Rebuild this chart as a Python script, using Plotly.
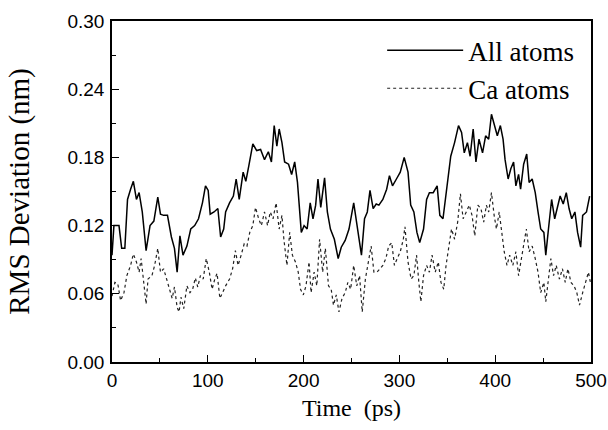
import plotly.graph_objects as go

# All atoms (solid)
time_all = [0, 2.0, 7.3, 10.1, 13.4, 16.2, 19.4, 22.3, 25.5, 28.3, 31.6, 35.6, 39.7, 43.7,
            47.8, 50.6, 53.9, 57.9, 62.0, 65.2, 68.0, 70.9, 74.1, 78.2, 82.2, 86.3, 90.3,
            94.4, 97.6, 100.4, 102.5, 106.5, 110.5, 113.4, 116.6, 118.6, 122.7, 126.7,
            129.6, 132.8, 136.9, 139.7, 142.9, 147.0, 151.0, 155.1, 159.2, 163.2, 166.4,
            169.3, 172.1, 174.5, 177.4, 180.2, 184.3, 187.5, 190.7, 193.6, 197.6, 200.5,
            203.7, 206.9, 209.8, 212.6, 215.0, 217.9, 221.9, 224.8, 228.0, 232.1, 236.1,
            239.3, 243.4, 247.4, 252.3, 255.5, 260.4, 263.6, 266.5, 269.3, 272.6, 275.8,
            278.6, 282.7, 286.7, 289.6, 292.8, 296.9, 300.9, 305.0, 309.0, 311.8, 315.1,
            318.3, 321.2, 325.2, 328.4, 331.3, 335.3, 339.4, 342.2, 345.5, 349.5, 353.6,
            357.6, 361.7, 364.9, 367.7, 371.0, 373.8, 377.0, 379.9, 383.1, 386.8, 390.0,
            393.2, 396.1, 398.9, 402.2, 405.4, 408.2, 410.3, 413.5, 416.3, 419.2, 421.6,
            424.4, 426.5, 429.7, 432.9, 435.4, 438.6, 441.8, 444.7, 447.5, 450.8, 452.8,
            455.6, 458.9, 462.1, 464.9, 467.8, 471.0, 474.2, 477.1, 479.9, 483.2, 486.0,
            489.2, 491.3, 495.3, 498.6, 500.0]
rmsd_all = [0.094, 0.120, 0.120, 0.100, 0.100, 0.143, 0.152, 0.159, 0.143, 0.149, 0.132,
            0.098, 0.120, 0.124, 0.145, 0.130, 0.129, 0.129, 0.110, 0.100, 0.079, 0.111,
            0.094, 0.102, 0.117, 0.120, 0.126, 0.140, 0.155, 0.151, 0.130, 0.132, 0.135,
            0.110, 0.117, 0.132, 0.140, 0.146, 0.161, 0.143, 0.167, 0.159, 0.173, 0.192,
            0.186, 0.187, 0.178, 0.185, 0.176, 0.208, 0.190, 0.205, 0.193, 0.176, 0.174,
            0.165, 0.176, 0.158, 0.114, 0.120, 0.117, 0.140, 0.126, 0.138, 0.161, 0.136,
            0.162, 0.132, 0.117, 0.108, 0.091, 0.101, 0.107, 0.117, 0.140, 0.120, 0.094,
            0.126, 0.132, 0.151, 0.135, 0.139, 0.138, 0.143, 0.152, 0.164, 0.155, 0.161,
            0.167, 0.180, 0.167, 0.138, 0.132, 0.114, 0.105, 0.117, 0.143, 0.149, 0.149,
            0.155, 0.129, 0.126, 0.155, 0.181, 0.193, 0.208, 0.202, 0.184, 0.193, 0.181,
            0.205, 0.176, 0.196, 0.184, 0.199, 0.196, 0.218, 0.208, 0.199, 0.208, 0.196,
            0.178, 0.161, 0.170, 0.176, 0.155, 0.165, 0.152, 0.174, 0.183, 0.158, 0.161,
            0.149, 0.132, 0.117, 0.114, 0.094, 0.117, 0.143, 0.126, 0.136, 0.146, 0.139,
            0.149, 0.135, 0.126, 0.132, 0.114, 0.101, 0.129, 0.132, 0.146]

# C-alpha atoms (dotted)
time_ca = [0, 3.0, 6.0, 9.0, 12.5, 15.5, 19.4, 22.3, 25.5, 28.3, 30.4, 33.6, 35.6, 37.6,
           41.7, 44.5, 47.8, 50.6, 53.9, 57.0, 60.0, 62.8, 65.2, 68.0, 70.0, 72.0, 74.9,
           78.2, 81.4, 84.2, 87.0, 89.5, 92.3, 95.2, 98.4, 101.6, 104.5, 107.3, 109.7,
           112.6, 115.4, 118.6, 122.7, 125.9, 128.8, 131.6, 134.8, 138.0, 140.9, 143.8,
           147.0, 149.8, 153.1, 155.9, 159.2, 162.4, 165.2, 168.1, 171.3, 174.5, 177.4,
           179.4, 182.6, 185.5, 188.3, 191.5, 194.4, 196.8, 199.7, 202.5, 205.7, 207.8,
           211.0, 213.8, 216.7, 219.9, 222.7, 226.0, 228.8, 231.2, 234.1, 236.9, 240.1,
           243.4, 246.2, 249.1, 252.3, 255.5, 258.4, 261.2, 264.5, 267.7, 270.5, 273.4,
           276.6, 279.8, 282.7, 285.9, 288.8, 292.0, 294.8, 297.7, 300.9, 304.1, 305.8,
           309.0, 312.2, 315.1, 317.9, 320.3, 322.4, 325.2, 328.4, 331.3, 334.1, 337.4,
           340.6, 343.4, 346.3, 348.7, 351.5, 354.4, 357.6, 360.8, 363.7, 366.5, 369.8,
           373.0, 375.8, 378.7, 381.9, 385.1, 388.0, 390.8, 393.2, 396.1, 398.9, 401.3,
           404.2, 407.0, 409.4, 412.3, 415.1, 418.4, 421.6, 424.4, 427.3, 429.7, 432.5,
           435.4, 438.6, 441.8, 444.7, 447.5, 450.8, 452.8, 455.6, 458.1, 460.9, 463.7,
           467.0, 470.2, 473.1, 475.9, 479.1, 482.3, 485.2, 488.0, 491.3, 494.5, 497.3,
           499.4]
rmsd_ca = [0.058, 0.070, 0.069, 0.054, 0.061, 0.076, 0.085, 0.095, 0.088, 0.079, 0.091,
           0.064, 0.051, 0.073, 0.076, 0.085, 0.100, 0.079, 0.082, 0.073, 0.064, 0.056,
           0.066, 0.048, 0.044, 0.057, 0.047, 0.067, 0.061, 0.064, 0.074, 0.066, 0.076,
           0.073, 0.091, 0.079, 0.064, 0.073, 0.078, 0.056, 0.061, 0.067, 0.073, 0.082,
           0.098, 0.085, 0.094, 0.104, 0.102, 0.114, 0.120, 0.136, 0.126, 0.120, 0.132,
           0.120, 0.132, 0.126, 0.140, 0.117, 0.129, 0.108, 0.085, 0.114, 0.094, 0.088,
           0.079, 0.064, 0.059, 0.067, 0.088, 0.061, 0.079, 0.067, 0.108, 0.079, 0.100,
           0.067, 0.064, 0.050, 0.059, 0.044, 0.056, 0.061, 0.070, 0.064, 0.085, 0.067,
           0.076, 0.044, 0.073, 0.088, 0.102, 0.079, 0.079, 0.082, 0.085, 0.091, 0.102,
           0.105, 0.085, 0.091, 0.097, 0.108, 0.119, 0.088, 0.073, 0.076, 0.094, 0.070,
           0.053, 0.076, 0.085, 0.079, 0.094, 0.079, 0.088, 0.070, 0.064, 0.085, 0.102,
           0.117, 0.108, 0.123, 0.148, 0.126, 0.132, 0.138, 0.129, 0.111, 0.138, 0.135,
           0.123, 0.138, 0.132, 0.149, 0.129, 0.117, 0.132, 0.114, 0.097, 0.085, 0.094,
           0.085, 0.097, 0.076, 0.091, 0.102, 0.117, 0.097, 0.102, 0.091, 0.079, 0.061,
           0.070, 0.053, 0.073, 0.091, 0.076, 0.085, 0.073, 0.082, 0.070, 0.082, 0.070,
           0.067, 0.061, 0.050, 0.061, 0.070, 0.079, 0.070]

x_ticks = [0, 100, 200, 300, 400, 500]
y_ticks = [0.00, 0.06, 0.12, 0.18, 0.24, 0.30]
y_tick_labels = ["0.00", "0.06", "0.12", "0.18", "0.24", "0.30"]

fig = go.Figure()
fig.add_trace(go.Scatter(x=time_all, y=rmsd_all, mode="lines", name="All atoms",
                         legendgroup="a",
                         line=dict(color="black", width=1.5)))
fig.add_trace(go.Scatter(x=time_ca, y=rmsd_ca, mode="lines", name="Ca atoms",
                         legendgroup="b",
                         line=dict(color="#222222", width=1.2, dash="dot")))

axis_common = dict(showline=True, linecolor="black", linewidth=1.5, mirror=True,
                   ticks="inside", ticklen=7, tickwidth=1.2, tickcolor="black",
                   showgrid=False, zeroline=False, automargin=False,
                   ticklabeloverflow="allow",
                   tickfont=dict(family="Liberation Sans, Arial, sans-serif", size=19, color="black"))

fig.update_xaxes(range=[0, 500], tickvals=x_ticks,
                 minor=dict(ticks="inside", ticklen=4, dtick=50, tickcolor="black"),
                 title=dict(text="Time\u00a0\u00a0(ps)", standoff=10,
                            font=dict(family="Liberation Serif, Times New Roman, serif", size=24, color="black")),
                 **axis_common)
fig.update_yaxes(range=[0, 0.30], tickvals=y_ticks, ticktext=y_tick_labels,
                 ticklabelstandoff=2,
                 minor=dict(ticks="inside", ticklen=4, dtick=0.03, tickcolor="black"),
                 title=dict(text="RMS Deviation (nm)", standoff=29,
                            font=dict(family="Liberation Serif, Times New Roman, serif", size=29, color="black")),
                 **axis_common)

fig.update_layout(
    width=608, height=430,
    margin=dict(l=112, r=17, t=21, b=68),
    paper_bgcolor="white", plot_bgcolor="white",
    showlegend=True,
    legend=dict(x=0.564, y=0.985, xanchor="left", yanchor="top",
                bgcolor="rgba(0,0,0,0)", borderwidth=0,
                itemwidth=76, tracegroupgap=0, traceorder="grouped",
                font=dict(family="Liberation Serif, Times New Roman, serif", size=27, color="black")),
)

# remove the default 8px page margin so the figure fills the window exactly
fig.write_html("out.html",
               config={"displayModeBar": False},
               post_script="document.body.style.margin='0';document.body.style.overflow='hidden';")
